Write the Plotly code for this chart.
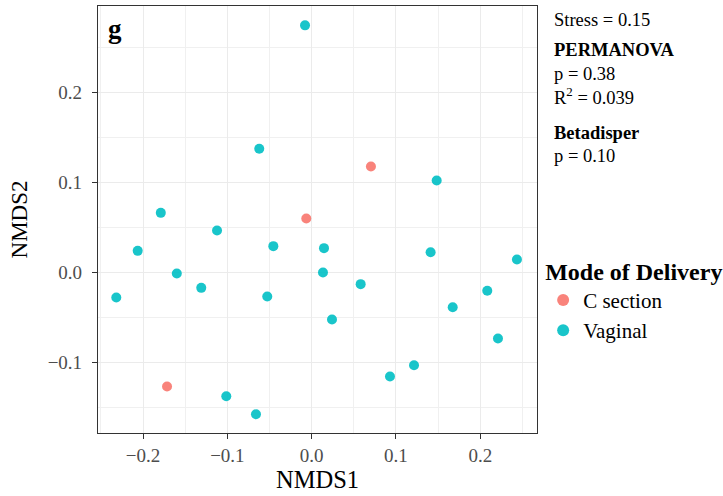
import plotly.graph_objects as go

# Data
c_x = [-0.1716, 0.0703, -0.0064]
c_y = [-0.127, 0.1174, 0.0596]

v_x = [-0.0079, -0.0622, -0.179, -0.1123, -0.0455, -0.2064, -0.160, -0.131,
       -0.2318, -0.0527, -0.1013, -0.0661, 0.1483, 0.0146, 0.0134, 0.1411,
       0.2435, 0.0581, 0.2083, 0.1673, 0.0241, 0.221, 0.1214, 0.0929]
v_y = [0.2741, 0.137, 0.0659, 0.0463, 0.0289, 0.0237, -0.0015, -0.0174,
       -0.0281, -0.027, -0.1378, -0.1578, 0.1019, 0.0267, -0.0004, 0.0222,
       0.0141, -0.0133, -0.0207, -0.0389, -0.0526, -0.0737, -0.1033, -0.1159]

tick_vals_x = [-0.2, -0.1, 0.0, 0.1, 0.2]
tick_text_x = ["\u22120.2", "\u22120.1", "0.0", "0.1", "0.2"]
tick_vals_y = [-0.1, 0.0, 0.1, 0.2]
tick_text_y = ["\u22120.1", "0.0", "0.1", "0.2"]

FONT = "Liberation Serif"

fig = go.Figure()
fig.add_trace(go.Scatter(x=c_x, y=c_y, mode="markers", name="C section",
                         marker=dict(color="#F8766D", size=10, opacity=0.9,
                                     line=dict(width=0))))
fig.add_trace(go.Scatter(x=v_x, y=v_y, mode="markers", name="Vaginal",
                         marker=dict(color="#00BFC4", size=10, opacity=0.9,
                                     line=dict(width=0))))

axis_common = dict(
    showgrid=True, gridcolor="#EBEBEB", gridwidth=1.1,
    zeroline=False, showline=True, linecolor="#333333", linewidth=1.2, mirror=True,
    ticks="outside", ticklen=5, tickcolor="#333333", tickwidth=1,
    tickfont=dict(family=FONT, size=19, color="#4D4D4D"),
)

fig.update_xaxes(**axis_common, range=[-0.2535, 0.2673], tickvals=tick_vals_x,
                 ticktext=tick_text_x, title_text="NMDS1", title_standoff=5,
                 title_font=dict(family=FONT, size=24.5, color="black"),
                 minor=dict(dtick=0.05, tick0=0, showgrid=True, gridcolor="#F0F0F0", gridwidth=0.6, ticks=""))
fig.update_yaxes(**axis_common, range=[-0.1786, 0.2956], tickvals=tick_vals_y,
                 ticktext=tick_text_y, title_text="NMDS2", title_standoff=13,
                 ticklabelstandoff=6,
                 title_font=dict(family=FONT, size=23, color="black"),
                 minor=dict(dtick=0.05, tick0=0, showgrid=True, gridcolor="#F0F0F0", gridwidth=0.6, ticks=""))

fig.update_layout(
    width=723, height=496,
    margin=dict(l=98, r=186, t=6, b=63, autoexpand=False),
    plot_bgcolor="white", paper_bgcolor="white",
    font=dict(family=FONT, color="black"),
    legend=dict(
        title=dict(text="<b>Mode of Delivery</b>", font=dict(family=FONT, size=24)),
        font=dict(family=FONT, size=21),
        x=1.014, xanchor="left", y=0.432, yanchor="top",
        bgcolor="rgba(0,0,0,0)", itemsizing="constant",
    ),
)

ann = [
    ("Stress = 0.15", 0.967),
    ("<b>PERMANOVA</b>", 0.897),
    ("p = 0.38", 0.841),
    ("R<sup>2</sup> = 0.039", 0.789),
    ("<b>Betadisper</b>", 0.702),
    ("p = 0.10", 0.648),
]
for text, yy in ann:
    fig.add_annotation(text=text, xref="paper", yref="paper", x=1.0345, y=yy,
                       xanchor="left", yanchor="middle", showarrow=False,
                       font=dict(family=FONT, size=18.5, color="black"))

fig.add_annotation(text="<b>g</b>", xref="paper", yref="paper", x=0.018, y=0.945,
                   xanchor="left", yanchor="middle", showarrow=False,
                   font=dict(family=FONT, size=27, color="black"))

fig.write_html("out.html")
